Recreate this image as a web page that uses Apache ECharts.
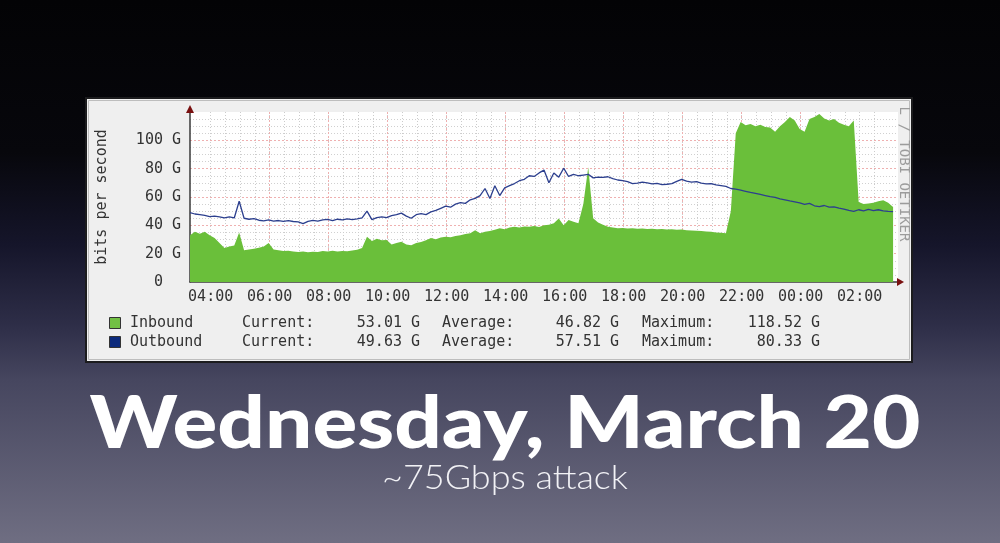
<!DOCTYPE html>
<html><head><meta charset="utf-8">
<script src="https://cdn.jsdelivr.net/npm/echarts@6/dist/echarts.min.js"></script>
<style>html,body{margin:0;padding:0;background:#000}#c{width:1000px;height:543px}</style>
</head><body><div id="c"></div>
<script>
// time axis: hours of day (values >24 are the next day)
const startHour = 3.3;          // 03:18
const stepHours = 1 / 6;        // 10-minute samples
const axisMinHour = 3.3, axisMaxHour = 27.3;

const inbound = [
  33,35.4,34,35.5,33,31,27.5,24,25,25.8,
  35,22.5,23,23.5,24.2,25,27.5,23,22.4,21.8,
  22,21.5,21.2,21.6,21,21.4,21.2,21.8,21.5,22,
  21.6,21.9,21.7,22.2,22.8,24,32,29,30.5,29.5,
  29.6,26.5,27.5,28.4,26.5,26,27.6,28.2,29.5,31,
  30.2,31.5,32,31.6,32.5,33,33.8,34.5,36.6,34.5,
  35.5,36,36.8,38,37.2,38.5,39,38.4,39.2,39,
  39.5,38.8,40,40.5,41.5,44.8,40,43.7,42.5,41.5,
  55,81,45,42,40.5,39,38.5,38,38.2,37.8,
  38,37.6,37.8,37.5,37.6,37.2,37.4,37,37.2,36.8,
  37,36.6,36.4,36.2,36,35.6,35.4,35,34.8,34.5,
  50,105,113,110.6,111.5,110,111,109.5,109,106,
  110,113,116.4,114,108,106,115,116.4,118.52,115.5,
  114,115,112.5,111,110,114,56.5,55,55.4,56,
  57,57.7,56,53.01
];
const outbound = [
  49,48,47.5,47,46.2,46.5,46,45.3,46,45.2,
  57,45,44.3,44.8,43.6,43.2,43.8,43,43.4,42.8,
  43.3,42.7,42.5,41.2,42.8,43.5,42.9,43.8,44.2,43.4,
  44.3,43.8,44.6,44,44.5,45.2,50,44,45.5,46,
  45.4,46.8,47.5,48.6,46.5,45,47.5,48.2,47.6,49.5,
  50.5,52,53.5,52.8,55,56,55.5,58,59,61,
  66,59,68,61,66.5,68,69.5,71.5,72.5,75,
  74.5,77,79,70,77,74,80.33,74.5,76,75,
  75.5,76,73.5,74,73.8,74.3,73,72,71.5,70.8,
  69.5,69.8,70.5,70,69.3,69.6,68.8,69,69.4,71,
  72.5,71.2,70.5,70.8,69.8,69.2,69.5,68.5,68,67.5,
  66,65.5,64.8,64,63.2,62.5,61.8,61,60.2,59.8,
  58.6,58,57.2,56.5,55.8,54.8,55.5,53.8,53.2,54,
  52.8,53,52.2,51.5,50.5,49.8,51,50.2,51.2,50.4,
  51,50.2,49.8,49.63
];

const xTickHours  = [4,6,8,10,12,14,16,18,20,22,24,26];
const xTickLabels = ['04:00','06:00','08:00','10:00','12:00','14:00','16:00','18:00','20:00','22:00','00:00','02:00'];
const yTickValues = [0,20,40,60,80,100];
const yTickLabels = ['0  ','20 G','40 G','60 G','80 G','100 G'];

const legendNames   = ['Inbound','Outbound'];
const legendColors  = ['#72c044','#0c2a7c'];
const currentVals   = ['53.01 G','49.63 G'];
const averageVals   = ['46.82 G','57.51 G'];
const maximumVals   = ['118.52 G','80.33 G'];

const titleText = 'Wednesday, March 20';
const subtitleText = '~75Gbps attack';
const watermark = 'L / TOBI OETIKER';

const inPairs  = inbound.map((v, i) => [startHour + i * stepHours, v]);
const outPairs = outbound.map((v, i) => [startHour + i * stepHours, v]);
const minorHours = [];
for (let h = 3.5; h < axisMaxHour; h += 0.5) minorHours.push(h);

const MONO = '"DejaVu Sans Mono", "Liberation Mono", monospace';
const chart = echarts.init(document.getElementById('c'), null, {renderer: 'canvas'});

const option = {
  animation: false,
  backgroundColor: {
    type: 'linear', x: 0, y: 0, x2: 0, y2: 1,
    colorStops: [
      {offset: 0, color: '#030305'},
      {offset: 0.28, color: '#07070c'},
      {offset: 0.45, color: '#15152a'},
      {offset: 0.6, color: '#2e2e48'},
      {offset: 0.7, color: '#46465f'},
      {offset: 1, color: '#6f6e82'}
    ]
  },
  grid: {left: 190, right: 102, top: 112, height: 170, show: true, backgroundColor: '#ffffff', borderWidth: 0},
  xAxis: [
    {
      type: 'value', min: axisMinHour, max: axisMaxHour, position: 'bottom',
      axisLine: {show: false}, axisLabel: {show: false},
      axisTick: {show: false, customValues: minorHours},
      splitLine: {show: true, showMinLine: false, showMaxLine: false, lineStyle: {color: '#cccccc', width: 1, type: [1, 2]}}
    },
    {
      type: 'value', min: axisMinHour, max: axisMaxHour, position: 'bottom',
      axisLine: {show: true, lineStyle: {color: '#3a3a3a', width: 1.5}},
      axisTick: {show: false, customValues: xTickHours},
      axisLabel: {
        show: true, customValues: xTickHours, margin: 8,
        fontFamily: MONO, fontSize: 15, color: '#333',
        formatter: v => xTickLabels[xTickHours.indexOf(Math.round(v))] || ''
      },
      splitLine: {show: true, showMinLine: false, showMaxLine: false, lineStyle: {color: '#efb0b0', width: 1, type: [2, 2]}}
    }
  ],
  yAxis: {
    type: 'value', min: 0, max: 120, interval: 20,
    name: 'bits per second', nameLocation: 'middle', nameRotate: 90, nameGap: 80,
    nameTextStyle: {fontFamily: MONO, fontSize: 15, color: '#333'},
    axisLine: {show: true, lineStyle: {color: '#3a3a3a', width: 1.5}},
    axisTick: {show: false},
    axisLabel: {
      margin: 9, fontFamily: MONO, fontSize: 15, color: '#333',
      formatter: v => { const k = yTickValues.indexOf(Math.round(v)); return k >= 0 ? yTickLabels[k] : ''; }
    },
    splitLine: {show: true, showMinLine: false, showMaxLine: false, lineStyle: {color: '#efb0b0', width: 1, type: [2, 2]}},
    minorTick: {show: false, splitNumber: 4},
    minorSplitLine: {show: true, lineStyle: {color: '#d0d0d0', width: 1, type: [1, 2]}}
  },
  series: [
    {
      name: 'Inbound', type: 'line', xAxisIndex: 0, data: inPairs, showSymbol: false,
      lineStyle: {width: 0}, areaStyle: {color: '#6abf3a', opacity: 1}, itemStyle: {color: '#6abf3a'}, z: 2
    },
    {
      name: 'Outbound', type: 'line', xAxisIndex: 0, data: outPairs, showSymbol: false,
      lineStyle: {width: 1.3, color: '#2c3f8e'}, itemStyle: {color: '#2c3f8e'}, z: 3
    }
  ]
};
chart.setOption(option);

// decorations positioned through the chart's own scales
const topLeft = chart.convertToPixel({gridIndex: 0}, [axisMinHour, 120]);
const botRight = chart.convertToPixel({gridIndex: 0}, [axisMaxHour, 0]);
const ox = topLeft[0], oy = botRight[1];

const graphics = [
  {type: 'rect', z: -10, shape: {x: 86, y: 98, width: 826, height: 264}, style: {fill: '#efefef', stroke: '#1c1c1e', lineWidth: 2}},
  {type: 'rect', z: -9, shape: {x: 88.5, y: 100.5, width: 821, height: 259}, style: {fill: 'none', stroke: '#bdbdbd', lineWidth: 1}},
  // axis arrows
  {type: 'polygon', z: 50, shape: {points: [[ox - 4, topLeft[1] + 1], [ox + 4, topLeft[1] + 1], [ox, topLeft[1] - 7]]}, style: {fill: '#7a1010'}},
  {type: 'polygon', z: 50, shape: {points: [[botRight[0] - 1, oy - 4], [botRight[0] - 1, oy + 4], [botRight[0] + 6, oy]]}, style: {fill: '#7a1010'}},
  // watermark
  {type: 'text', z: 50, x: 904, y: 174, rotation: -Math.PI / 2,
   style: {text: watermark, fill: '#9c9c9c', font: '14px ' + MONO, textAlign: 'center', textVerticalAlign: 'middle', align: 'center', verticalAlign: 'middle'}},
  // titles
  {type: 'text', z: 50, x: 505, y: 425, scaleX: 1.16, originX: 0, originY: 0,
   style: {text: titleText, fill: '#ffffff', font: '900 72px Lato', textAlign: 'center', textVerticalAlign: 'middle', align: 'center', verticalAlign: 'middle'}},
  {type: 'text', z: 50, x: 505, y: 478, scaleX: 1.09, originX: 0, originY: 0,
   style: {text: subtitleText, fill: '#f2f2f6', font: '300 33px Lato', textAlign: 'center', textVerticalAlign: 'middle', align: 'center', verticalAlign: 'middle'}}
];

const rowY = [323, 342];
legendNames.forEach((name, r) => {
  const y = rowY[r];
  const f = '15px ' + MONO;
  const txt = (x, text, align) => ({type: 'text', z: 50, x: x, y: y,
    style: {text: text, fill: '#333', font: f, textAlign: align, textVerticalAlign: 'middle', align: align, verticalAlign: 'middle'}});
  graphics.push({type: 'rect', z: 50, shape: {x: 109.5, y: y - 5.5, width: 11, height: 11}, style: {fill: legendColors[r], stroke: '#333', lineWidth: 1}});
  graphics.push(txt(130, name, 'left'));
  graphics.push(txt(242, 'Current:', 'left'));
  graphics.push(txt(420, currentVals[r], 'right'));
  graphics.push(txt(442, 'Average:', 'left'));
  graphics.push(txt(619, averageVals[r], 'right'));
  graphics.push(txt(642, 'Maximum:', 'left'));
  graphics.push(txt(820, maximumVals[r], 'right'));
});
chart.setOption({graphic: graphics});
</script></body></html>
